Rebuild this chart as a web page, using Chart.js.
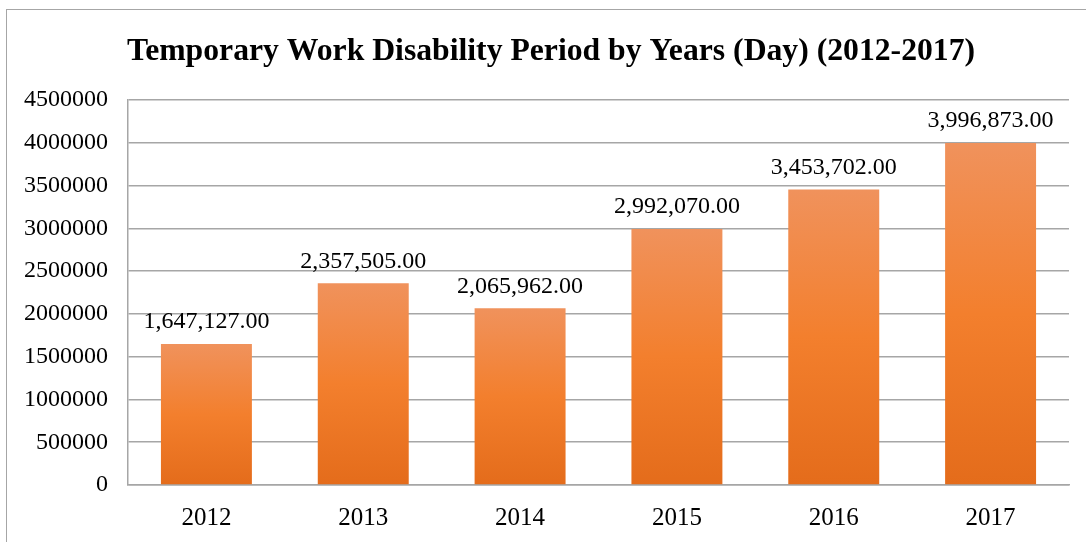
<!DOCTYPE html>
<html>
<head>
<meta charset="utf-8">
<script src="https://cdn.jsdelivr.net/npm/chart.js@4"></script>
<style>
  html, body { margin: 0; padding: 0; background: #fff; }
  #wrap { position: relative; width: 1086px; height: 542px; overflow: hidden; }
  #frame { position: absolute; left: 6px; top: 9px; width: 1200px; height: 700px; border: 1px solid #a6a6a6; box-sizing: border-box; }
  canvas { position: absolute; left: 0; top: 0; }
</style>
</head>
<body>
<div id="wrap">
  <div id="frame"></div>
  <canvas id="chart" width="1086" height="542"></canvas>
</div>
<script>
// Temporary work disability period, days per year
const years = ['2012', '2013', '2014', '2015', '2016', '2017'];
const days = [1647127, 2357505, 2065962, 2992070, 3453702, 3996873];
const yTicks = [0, 500000, 1000000, 1500000, 2000000, 2500000, 3000000, 3500000, 4000000, 4500000];
const titleText = 'Temporary Work Disability Period by Years (Day) (2012-2017)';

const serif = "'Liberation Serif', 'Times New Roman', serif";

// per-bar vertical gradient, light on top like the office style
function barFill(ctx) {
  const chart = ctx.chart;
  const y = chart.scales.y;
  if (!y || ctx.parsed == null) return '#f07d2c';
  const top = y.getPixelForValue(ctx.parsed.y);
  const bottom = y.getPixelForValue(0);
  if (!isFinite(top) || !isFinite(bottom) || top === bottom) return '#f07d2c';
  const g = chart.ctx.createLinearGradient(0, top, 0, bottom);
  g.addColorStop(0, '#f0925c');
  g.addColorStop(0.5, '#f37f2d');
  g.addColorStop(1, '#e46c1b');
  return g;
}

// title centred on the whole frame, not on the padded box
const frameTitle = {
  id: 'frameTitle',
  afterDraw(chart) {
    const c = chart.ctx;
    c.save();
    c.font = 'bold 31.7px ' + serif;
    c.fillStyle = '#000';
    c.textAlign = 'center';
    c.textBaseline = 'alphabetic';
    c.fillText(titleText, 551, 60);
    c.restore();
  }
};

const valueLabels = {
  id: 'valueLabels',
  afterDatasetsDraw(chart) {
    const c = chart.ctx;
    const meta = chart.getDatasetMeta(0);
    c.save();
    c.font = '24px ' + serif;
    c.fillStyle = '#000';
    c.textAlign = 'center';
    c.textBaseline = 'bottom';
    meta.data.forEach((bar, i) => {
      const txt = days[i].toLocaleString('en-US', { minimumFractionDigits: 2, maximumFractionDigits: 2 });
      c.fillText(txt, bar.x, bar.y - 10);
    });
    c.restore();
  }
};

new Chart(document.getElementById('chart'), {
  type: 'bar',
  data: {
    labels: years,
    datasets: [{
      data: days,
      backgroundColor: barFill,
      borderWidth: 0,
      categoryPercentage: 0.58,
      barPercentage: 1,
    }]
  },
  options: {
    responsive: false,
    animation: false,
    layout: { padding: { left: 4, right: 17, top: 100, bottom: -9 } },
    plugins: {
      legend: { display: false },
      tooltip: { enabled: false },
      title: { display: false }
    },
    scales: {
      x: {
        grid: { display: false, drawTicks: false },
        border: { display: true, color: '#a6a6a6', width: 1.5 },
        ticks: { color: '#000', font: { family: serif, size: 25 }, padding: 18 }
      },
      y: {
        min: 0,
        max: 4500000,
        afterBuildTicks(axis) { axis.ticks = yTicks.map(v => ({ value: v })); },
        grid: { color: '#a6a6a6', lineWidth: 1.5, drawTicks: false },
        border: { display: true, color: '#a6a6a6', width: 1.5 },
        ticks: { color: '#000', font: { family: serif, size: 24 }, padding: 20, callback: v => String(v) }
      }
    }
  },
  plugins: [valueLabels, frameTitle]
});
</script>
</body>
</html>
